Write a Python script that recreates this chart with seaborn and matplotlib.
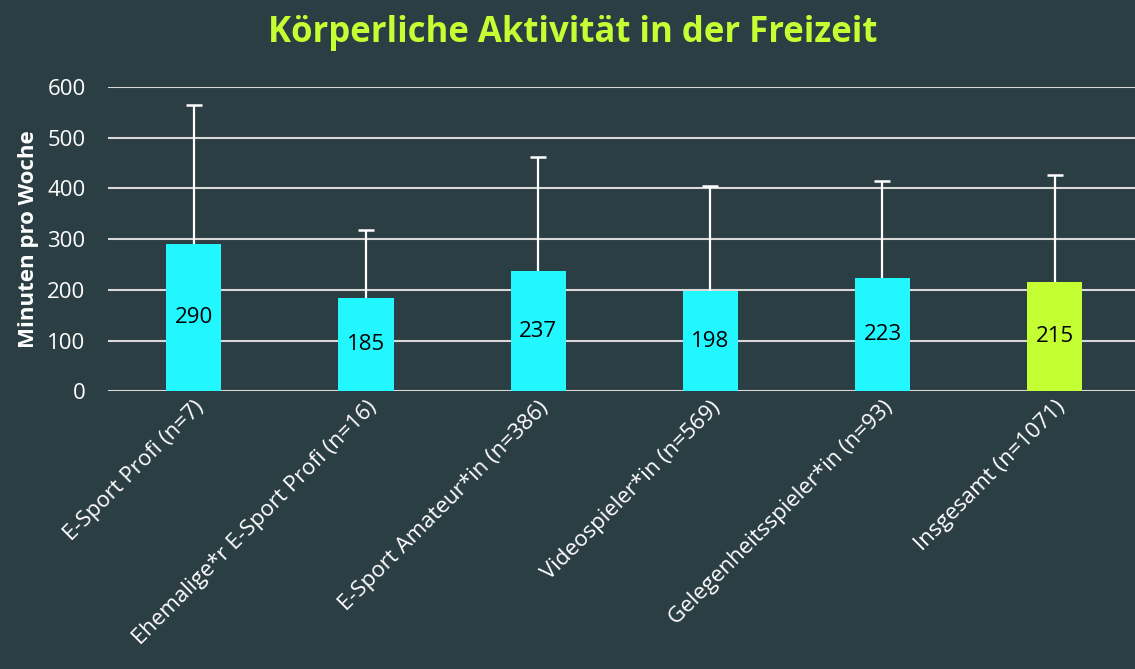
import numpy as np
import pandas as pd
import matplotlib
matplotlib.use("Agg")
import matplotlib.pyplot as plt
import seaborn as sns

# data
groups = ["E-Sport Profi (n=7)", "Ehemalige*r E-Sport Profi (n=16)",
          "E-Sport Amateur*in (n=386)", "Videospieler*in (n=569)",
          "Gelegenheitsspieler*in (n=93)", "Insgesamt (n=1071)"]
minutes = [290, 185, 237, 198, 223, 215]
sd_upper = [274, 133, 224, 206, 191, 211]
bar_colors = ["#22F6FF", "#22F6FF", "#22F6FF", "#22F6FF", "#22F6FF", "#C3FF33"]

bg = "#2B3E44"
fg = "#FFFFFF"

sns.set_theme(style="dark")
plt.rcParams['font.family'] = ['Open Sans', 'DejaVu Sans']

df = pd.DataFrame({"Gruppe": groups, "Minuten": minutes})

fig = plt.figure(figsize=(11.35, 6.69), dpi=100, facecolor=bg)
ax = fig.add_axes([0.095, 0.415, 0.91, 0.455])
ax.set_facecolor(bg)

sns.barplot(data=df, x="Gruppe", y="Minuten", hue="Gruppe",
            palette=bar_colors, width=0.32, legend=False, ax=ax,
            zorder=3, saturation=1, linewidth=0)

# upper error bars only: stem from bar top, cap at the end
x = np.arange(len(groups))
tops = np.array(minutes) + np.array(sd_upper)
ax.vlines(x, minutes, tops, color=fg, linewidth=1.6, zorder=4)
ax.scatter(x, tops, marker="_", s=130, color=fg, linewidths=1.8, zorder=4)

for i, v in enumerate(minutes):
    ax.text(i, v / 2, str(v), ha="center", va="center",
            fontsize=16, color="black", zorder=5)

ax.set_ylim(0, 600)
ax.set_xlim(-0.5, len(groups) - 0.5)
ax.set_yticks(range(0, 601, 100))
ax.yaxis.grid(True, color="#D9D9D9", linewidth=1.5, zorder=0)
ax.xaxis.grid(False)
for s in ax.spines.values():
    s.set_visible(False)

ax.tick_params(axis="y", colors=fg, labelsize=16, length=0, pad=16)
ax.tick_params(axis="x", colors=fg, labelsize=16, length=0, pad=4)
plt.setp(ax.get_xticklabels(), rotation=45, ha="right",
         rotation_mode="anchor")

ax.set_xlabel("")
ax.set_ylabel("Minuten pro Woche", color=fg, fontsize=16,
              fontweight="bold", labelpad=6)

fig.text(0.505, 0.95, "Körperliche Aktivität in der Freizeit",
         ha="center", va="center", fontsize=25, fontweight="bold",
         color="#C3FF33")

fig.savefig("out.png", dpi=100, facecolor=bg)
